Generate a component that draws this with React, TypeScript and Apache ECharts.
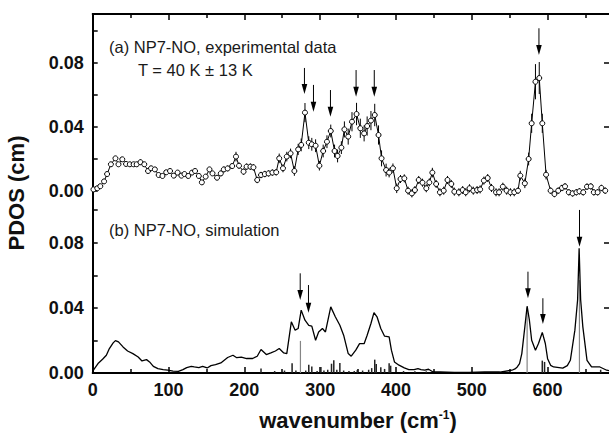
import React, { useEffect, useRef } from 'react';
import * as echarts from 'echarts';

// ---- (a) experimental data: wavenumber (cm^-1), PDOS (cm), error ----
const topX = [
  1, 6, 10, 15, 19, 24, 30, 34, 39, 44,
  49, 54, 58, 63, 68, 73, 77, 82, 87, 92,
  97, 102, 107, 112, 117, 121, 126, 131, 135, 140,
  144, 149, 154, 158, 164, 169, 173, 178, 184, 189,
  193, 199, 203, 208, 212, 217, 222, 227, 232, 237,
  242, 246, 251, 256, 261, 266, 271, 275, 280, 285,
  289, 294, 299, 304, 309, 314, 319, 323, 328, 332,
  337, 342, 348, 353, 358, 362, 367, 372, 377, 381,
  387, 391, 396, 401, 406, 411, 416, 421, 425, 430,
  435, 440, 444, 448, 453, 458, 463, 468, 473, 477,
  483, 488, 492, 497, 502, 507, 511, 516, 521, 526,
  532, 536, 541, 546, 551, 556, 561, 564, 570, 575,
  579, 584, 589, 593, 598, 604, 609, 614, 619, 623,
  628, 633, 638, 642, 647, 652, 657, 661, 666, 671,
  676,
];
const topY = [
  0.001, 0.0017, 0.003, 0.006, 0.0106, 0.0167, 0.0204, 0.0167, 0.0198, 0.0169,
  0.0167, 0.0167, 0.0167, 0.018, 0.0167, 0.0125, 0.0142, 0.0135, 0.01, 0.0094,
  0.0117, 0.0125, 0.0096, 0.0115, 0.0096, 0.0106, 0.0094, 0.0115, 0.0125, 0.0094,
  0.0054, 0.009, 0.0135, 0.011, 0.0083, 0.011, 0.0135, 0.0141, 0.0156, 0.0215,
  0.0158, 0.0121, 0.0152, 0.0152, 0.0148, 0.0069, 0.01, 0.0106, 0.011, 0.0115,
  0.0117, 0.0204, 0.0142, 0.0215, 0.0235, 0.0125, 0.026, 0.0288, 0.049, 0.0302,
  0.0292, 0.0283, 0.0158, 0.025, 0.0308, 0.0375, 0.025, 0.0219, 0.0271, 0.0385,
  0.034, 0.0433, 0.0481, 0.0392, 0.036, 0.0406, 0.044, 0.0475, 0.035, 0.0204,
  0.0131, 0.0115, 0.0142, 0.0017, 0.0075, 0.0079, 0.0002, -0.0015, 0.0006, 0.0069,
  0.0052, 0.0017, 0.0054, 0.0115, 0.0044, -0.0008, 0.0002, 0.0069, 0.0044, -0.0004,
  -0.0008, 0.0006, -0.0008, 0.0017, 0.0002, 0.0006, 0.001, 0.0065, 0.0081, 0.0019,
  -0.0008, -0.0008, 0.0027, 0.0002, -0.0008, -0.0008, 0.0002, 0.0096, 0.0048, 0.02,
  0.0423, 0.0683, 0.0706, 0.0423, 0.0102, 0.0002, -0.0019, 0.0002, 0.0019, 0.0029,
  -0.0008, -0.0015, -0.0008, -0.0002, -0.0008, 0.0027, 0.0029, -0.0008, -0.0008, 0.0019,
  0.0002,
];
const topErr = [
  0.0012, 0.0012, 0.0012, 0.0012, 0.0012, 0.0012, 0.0012, 0.0012, 0.0012, 0.0012,
  0.0012, 0.0012, 0.0012, 0.0018, 0.0012, 0.0012, 0.0012, 0.0012, 0.0012, 0.0012,
  0.0012, 0.0012, 0.0012, 0.0012, 0.0012, 0.0012, 0.0012, 0.0012, 0.0012, 0.0012,
  0.0012, 0.0015, 0.0015, 0.0015, 0.0015, 0.0018, 0.0018, 0.0018, 0.0018, 0.003,
  0.002, 0.002, 0.002, 0.002, 0.002, 0.002, 0.002, 0.002, 0.002, 0.002,
  0.002, 0.003, 0.0025, 0.003, 0.003, 0.003, 0.0035, 0.004, 0.006, 0.004,
  0.004, 0.004, 0.003, 0.004, 0.004, 0.004, 0.004, 0.004, 0.004, 0.005,
  0.005, 0.006, 0.007, 0.006, 0.005, 0.006, 0.006, 0.007, 0.006, 0.005,
  0.004, 0.003, 0.003, 0.003, 0.0025, 0.0025, 0.0025, 0.0025, 0.0025, 0.0025,
  0.0025, 0.0025, 0.0025, 0.003, 0.0025, 0.0025, 0.0025, 0.0025, 0.0025, 0.0025,
  0.0025, 0.0025, 0.0025, 0.0025, 0.0025, 0.0025, 0.0025, 0.0025, 0.0025, 0.0025,
  0.0025, 0.0025, 0.0025, 0.0025, 0.0025, 0.0025, 0.002, 0.003, 0.003, 0.004,
  0.006, 0.011, 0.01, 0.006, 0.003, 0.002, 0.002, 0.002, 0.002, 0.002,
  0.002, 0.002, 0.002, 0.002, 0.002, 0.002, 0.002, 0.002, 0.002, 0.002,
  0.002,
];

// ---- (b) simulation ----
const simX = [
  0, 7, 13, 18, 22, 27, 30, 34, 40, 46, 53, 60, 65, 71, 75, 80, 86, 93, 99, 106,
  113, 119, 124, 130, 134, 140, 145, 151, 156, 162, 169, 178, 185, 190, 196, 203, 211, 217, 222, 229,
  235, 241, 246, 252, 256, 262, 267, 271, 275, 280, 285, 289, 294, 298, 303, 307, 314, 320, 326, 331,
  337, 341, 347, 352, 358, 362, 367, 371, 375, 380, 385, 391, 394, 398, 404, 411, 417, 424, 429, 433,
  438, 443, 449, 458, 477, 497, 517, 537, 553, 557, 560, 563, 566, 570, 573, 576, 579, 584, 588, 593,
  597, 600, 604, 608, 620, 626, 630, 636, 639.6, 641.6, 643.6, 646.5, 652, 658, 669, 678, 681,
];
const simY = [
  0.0012, 0.0058, 0.0084, 0.0109, 0.015, 0.0185, 0.0199, 0.0191, 0.016, 0.0135, 0.0119, 0.0098, 0.0074, 0.0082, 0.0068, 0.0041, 0.0027, 0.0021, 0.0017, 0.0012,
  0.001, 0.0021, 0.0033, 0.0041, 0.0037, 0.0033, 0.0041, 0.0031, 0.0045, 0.0051, 0.0062, 0.0095, 0.0109, 0.0094, 0.0098, 0.0089, 0.0089, 0.0103, 0.0144, 0.0113,
  0.0123, 0.0135, 0.015, 0.0123, 0.0119, 0.0314, 0.0263, 0.0273, 0.0386, 0.0324, 0.0293, 0.0288, 0.0201, 0.0252, 0.0273, 0.0252, 0.0406, 0.0345, 0.0293, 0.0232,
  0.0119, 0.0103, 0.014, 0.018, 0.018, 0.0232, 0.0304, 0.0371, 0.0345, 0.0273, 0.0226, 0.0222, 0.014, 0.0068, 0.0048, 0.0031, 0.0021, 0.0021, 0.0027, 0.0021,
  0.0017, 0.0023, 0.0006, 0.0006, 0.0004, 0.0004, 0.0006, 0.0006, 0.0017, 0.0025, 0.0037, 0.0058, 0.0119, 0.0283, 0.041, 0.0324, 0.0201, 0.014, 0.0181, 0.0249,
  0.0181, 0.0088, 0.0047, 0.0037, 0.003, 0.0045, 0.0078, 0.0263, 0.045, 0.0765, 0.045, 0.0283, 0.0078, 0.0037, 0.0037, 0.0017, 0.0015,
];

// ---- stick spectrum ----
const stickX = [
  222, 240, 253, 263, 268, 274, 281, 285, 289, 296, 301, 305, 310, 315, 318, 322, 326, 331, 338, 345,
  349, 356, 364, 368, 372, 374, 380, 385, 391, 393, 410, 425, 440, 573, 593, 596, 642, 670,
];
const stickH = [
  0.0027, 0.0012, 0.0015, 0.006, 0.0015, 0.0197, 0.0015, 0.0051, 0.004, 0.0012, 0.0037, 0.0015, 0.002, 0.0057, 0.0078, 0.002, 0.0062, 0.0015, 0.0012, 0.0012,
  0.0018, 0.0015, 0.002, 0.003, 0.0082, 0.0055, 0.0035, 0.0025, 0.006, 0.0045, 0.0012, 0.001, 0.001, 0.04, 0.0076, 0.0068, 0.057, 0.002,
];

// ---- arrows: x, start (tail) value, tip value ----
const arrowTopX = [279.3, 291.2, 313.6, 347.4, 371.4, 588.6];
const arrowTopStart = [0.0769, 0.0663, 0.0631, 0.0756, 0.0756, 0.1017];
const arrowTopTip = [0.0606, 0.0496, 0.0464, 0.0589, 0.0589, 0.085];
const arrowBotX = [273.7, 284.6, 574.1, 593.8, 642.1];
const arrowBotStart = [0.0612, 0.054, 0.0622, 0.0459, 0.1001];
const arrowBotTip = [0.0448, 0.037, 0.0459, 0.0301, 0.0775];

// ---- ticks / labels ----
const xLabelVals = [0, 100, 200, 300, 400, 500, 600];
const xMinorVals = [50, 150, 250, 350, 450, 550, 650];
const yLabelVals = [0, 0.04, 0.08];
const yTopTickVals = [0, 0.02, 0.04, 0.06, 0.08, 0.1];
const yBotTickVals = [0.02, 0.04, 0.06, 0.08, 0.1];
const yRightTickVals = [0.04, 0.08];

const FONT = '"Liberation Sans", Arial, Helvetica, sans-serif';

export default function App() {
  const ref = useRef<HTMLDivElement>(null);
  useEffect(() => {
    const chart = echarts.init(ref.current!, null, { renderer: 'svg' });
    const X_MAX = 681;
    const TOP_MIN = -0.11375;
    const TOP_MAX = 0.110625;
    const BOT_MAX = 0.2204;
    const tickLine = { color: '#000', width: 1.5 };
    const frameLine = { color: '#000', width: 2 };
    const labelStyle = { fontFamily: FONT, fontWeight: 'bold' as const, fontSize: 18, color: '#111' };

    const baseX = { type: 'value' as const, min: 0, max: X_MAX, splitLine: { show: false } };
    const xAxis = [
      {
        ...baseX, position: 'bottom',
        axisLine: { show: true, onZero: false, lineStyle: frameLine },
        axisTick: { show: true, inside: true, length: 6, lineStyle: tickLine, customValues: xLabelVals },
        axisLabel: { show: true, customValues: xLabelVals, margin: 8, formatter: (v: number) => String(Math.round(v)), ...labelStyle },
      },
      {
        ...baseX, position: 'bottom',
        axisLine: { show: false, onZero: false },
        axisTick: { show: true, inside: true, length: 4, lineStyle: tickLine, customValues: xMinorVals },
        axisLabel: { show: false },
      },
      {
        ...baseX, position: 'top',
        axisLine: { show: true, onZero: false, lineStyle: frameLine },
        axisTick: { show: true, inside: true, length: 6, lineStyle: tickLine, customValues: xLabelVals },
        axisLabel: { show: false },
      },
      {
        ...baseX, position: 'top',
        axisLine: { show: false, onZero: false },
        axisTick: { show: true, inside: true, length: 4, lineStyle: tickLine, customValues: xMinorVals },
        axisLabel: { show: false },
      },
    ];
    const yAxis = [
      {
        type: 'value', position: 'left', min: TOP_MIN, max: TOP_MAX, splitLine: { show: false },
        axisLine: { show: true, onZero: false, lineStyle: frameLine },
        axisTick: { show: true, inside: true, length: 5, lineStyle: tickLine, customValues: yTopTickVals },
        axisLabel: { show: true, customValues: yLabelVals, margin: 9, formatter: (v: number) => v.toFixed(2), ...labelStyle },
      },
      {
        type: 'value', position: 'left', min: 0, max: BOT_MAX, splitLine: { show: false },
        axisLine: { show: false, onZero: false },
        axisTick: { show: true, inside: true, length: 5, lineStyle: tickLine, customValues: yBotTickVals },
        axisLabel: { show: true, customValues: yLabelVals, margin: 9, formatter: (v: number) => v.toFixed(2), ...labelStyle },
      },
      {
        type: 'value', position: 'right', min: TOP_MIN, max: TOP_MAX, splitLine: { show: false },
        axisLine: { show: false, onZero: false },
        axisTick: { show: true, inside: true, length: 5, lineStyle: tickLine, customValues: yRightTickVals },
        axisLabel: { show: false },
      },
      {
        type: 'value', position: 'right', min: 0, max: BOT_MAX, splitLine: { show: false },
        axisLine: { show: false, onZero: false },
        axisTick: { show: true, inside: true, length: 5, lineStyle: tickLine, customValues: yRightTickVals },
        axisLabel: { show: false },
      },
    ];

    const arrowRender = (params: any, api: any) => {
      const x = api.value(0);
      const a = api.coord([x, api.value(1)]);
      const b = api.coord([x, api.value(2)]);
      const headL = 10;
      const headW = 2.8;
      return {
        type: 'group',
        children: [
          { type: 'line', shape: { x1: a[0], y1: a[1], x2: b[0], y2: b[1] - headL + 1 }, style: { stroke: '#000', lineWidth: 1 } },
          { type: 'polygon', shape: { points: [[b[0] - headW, b[1] - headL], [b[0] + headW, b[1] - headL], [b[0], b[1]]] }, style: { fill: '#000' } },
        ],
      };
    };

    const option: any = {
      animation: false,
      backgroundColor: '#fff',
      grid: { left: 92.7, top: 14, width: 517.6, height: 359, containLabel: false },
      xAxis,
      yAxis,
      series: [
        {
          type: 'custom', xAxisIndex: 0, yAxisIndex: 0, silent: true, z: 2,
          data: topX.map((x, i) => [x, topY[i] - topErr[i], topY[i] + topErr[i]]),
          encode: { x: 0, y: [1, 2] },
          renderItem: (params: any, api: any) => {
            const a = api.coord([api.value(0), api.value(1)]);
            const b = api.coord([api.value(0), api.value(2)]);
            return { type: 'line', shape: { x1: a[0], y1: a[1], x2: b[0], y2: b[1] }, style: { stroke: '#000', lineWidth: 1 } };
          },
        },
        {
          type: 'line', xAxisIndex: 0, yAxisIndex: 0, z: 3,
          data: topX.map((x, i) => [x, topY[i]]),
          symbol: 'circle', symbolSize: 5, showSymbol: true, showAllSymbol: true,
          itemStyle: { color: '#fff', borderColor: '#000', borderWidth: 1 },
          lineStyle: { color: '#000', width: 1 },
        },
        {
          type: 'custom', xAxisIndex: 0, yAxisIndex: 1, silent: true, z: 2,
          data: stickX.map((x, i) => [x, stickH[i]]),
          encode: { x: 0, y: 1 },
          renderItem: (params: any, api: any) => {
            const h = api.value(1);
            const a = api.coord([api.value(0), 0]);
            const b = api.coord([api.value(0), h]);
            const tall = h > 0.015;
            return { type: 'line', shape: { x1: a[0], y1: a[1], x2: b[0], y2: b[1] }, style: { stroke: tall ? '#858585' : '#222', lineWidth: tall ? 1.2 : 1.5 } };
          },
        },
        {
          type: 'line', xAxisIndex: 0, yAxisIndex: 1, z: 3,
          data: simX.map((x, i) => [x, simY[i]]),
          symbol: 'none',
          lineStyle: { color: '#000', width: 1.3 },
        },
        {
          type: 'custom', xAxisIndex: 0, yAxisIndex: 0, silent: true, z: 4,
          data: arrowTopX.map((x, i) => [x, arrowTopStart[i], arrowTopTip[i]]),
          encode: { x: 0, y: [1, 2] },
          renderItem: arrowRender,
        },
        {
          type: 'custom', xAxisIndex: 0, yAxisIndex: 1, silent: true, z: 4,
          data: arrowBotX.map((x, i) => [x, arrowBotStart[i], arrowBotTip[i]]),
          encode: { x: 0, y: [1, 2] },
          renderItem: arrowRender,
        },
      ],
      graphic: [
        { type: 'text', x: 109, y: 47, style: { text: '(a) NP7-NO, experimental data', fontFamily: FONT, fontSize: 16.5, fill: '#1a1a1a', align: 'left', verticalAlign: 'middle' } },
        { type: 'text', x: 138, y: 70, style: { text: 'T = 40 K \u00b1 13 K', fontFamily: FONT, fontSize: 16.5, fill: '#1a1a1a', align: 'left', verticalAlign: 'middle' } },
        { type: 'text', x: 109, y: 229.5, style: { text: '(b) NP7-NO, simulation', fontFamily: FONT, fontSize: 16.5, fill: '#1a1a1a', align: 'left', verticalAlign: 'middle' } },
        { type: 'text', x: 16, y: 193, rotation: Math.PI / 2, style: { text: 'PDOS (cm)', fontFamily: FONT, fontSize: 22, fontWeight: 'bold', fill: '#111', align: 'center', verticalAlign: 'middle' } },
        {
          type: 'text', x: 358, y: 420,
          style: {
            text: '{a|wavenumber (cm}{s|-1}{a|)}',
            align: 'center', verticalAlign: 'middle',
            rich: {
              a: { fontFamily: FONT, fontSize: 22, fontWeight: 'bold', fill: '#111' },
              s: { fontFamily: FONT, fontSize: 12, fontWeight: 'bold', fill: '#111', verticalAlign: 'top' },
            },
          },
        },
      ],
    };
    chart.setOption(option);
    return () => chart.dispose();
  }, []);
  return <div ref={ref} style={{ position: 'absolute', left: 0, top: 0, width: 609, height: 437 }} />;
}
